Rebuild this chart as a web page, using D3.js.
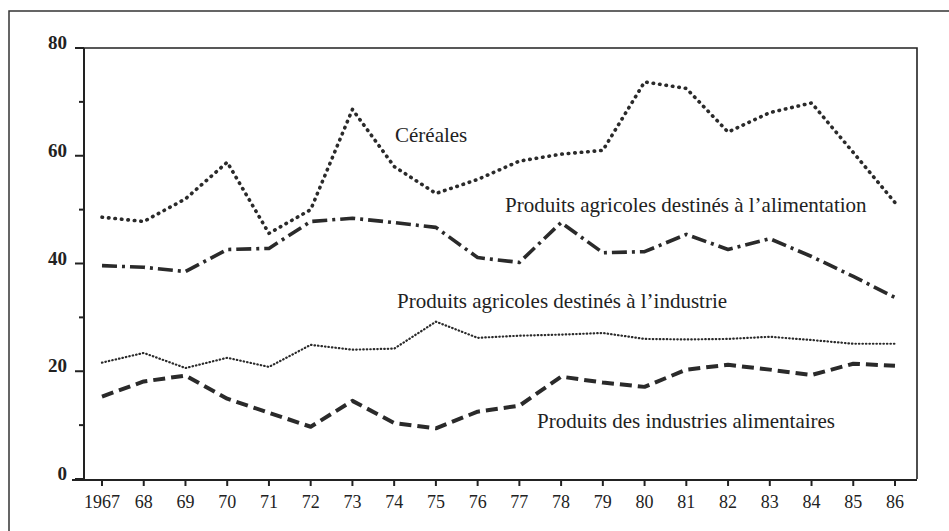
<!DOCTYPE html>
<html lang="fr">
<head>
<meta charset="UTF-8">
<title>Céréales et produits agricoles</title>
<script src="https://d3js.org/d3.v7.min.js"></script>
<style>
  body { margin: 0; background: #fff; }
  text { font-family: "Liberation Serif", "DejaVu Serif", serif; fill: #222; }
</style>
</head>
<body>
<div id="chart"></div>
<script>
// years on the x axis
const years = d3.range(1967, 1987);
const yearLabels = ["1967", "68", "69", "70", "71", "72", "73", "74", "75", "76",
                    "77", "78", "79", "80", "81", "82", "83", "84", "85", "86"];

// values
const cereales = [48.6, 47.8, 52, 58.8, 45.6, 50, 68.6, 58, 53, 55.6,
                  59, 60.3, 61, 73.7, 72.5, 64.4, 68, 69.8, 60.6, 51.3];
const alimentation = [39.6, 39.3, 38.5, 42.6, 42.8, 47.8, 48.4, 47.6, 46.7, 41.1,
                      40.2, 47.6, 42, 42.2, 45.4, 42.6, 44.6, 41.3, 37.6, 33.7];
const industrie = [21.6, 23.4, 20.6, 22.5, 20.8, 24.9, 24, 24.2, 29.2, 26.2,
                   26.6, 26.8, 27.1, 26, 25.9, 26, 26.4, 25.8, 25.1, 25.1];
const indAlim = [15.3, 18.1, 19.2, 14.9, 12.3, 9.7, 14.5, 10.4, 9.4, 12.5,
                 13.6, 19, 17.9, 17.1, 20.3, 21.2, 20.3, 19.3, 21.4, 21];

const yTicks = [0, 20, 40, 60, 80];
const yMinor = [10, 30, 50, 70];

const width = 949, height = 531;

const svg = d3.select("#chart").append("svg")
    .attr("width", width)
    .attr("height", height);

// outer frame (page border of the scan)
svg.append("path")
    .attr("d", "M9,531 L9,11 L949,11")
    .attr("fill", "none")
    .attr("stroke", "#333")
    .attr("stroke-width", 1.5);

const x = d3.scaleLinear().domain([1967, 1986]).range([102, 895]);
const y = d3.scaleLinear().domain([0, 80]).range([479, 48]);

// plot box: top and right edges
svg.append("path")
    .attr("d", `M84,${y(80)} L917,${y(80)} L917,${y(0)}`)
    .attr("fill", "none")
    .attr("stroke", "#222")
    .attr("stroke-width", 1.6);

// y axis
const yAxis = svg.append("g").attr("transform", "translate(84,0)");
yAxis.append("line")
    .attr("y1", y(80)).attr("y2", y(0) + 1)
    .attr("stroke", "#222").attr("stroke-width", 2);
yAxis.selectAll("line.major").data(yTicks).join("line")
    .attr("class", "major")
    .attr("x1", -9).attr("x2", 0)
    .attr("y1", d => y(d)).attr("y2", d => y(d))
    .attr("stroke", "#222").attr("stroke-width", 2);
yAxis.selectAll("line.minor").data(yMinor).join("line")
    .attr("class", "minor")
    .attr("x1", -5).attr("x2", 0)
    .attr("y1", d => y(d)).attr("y2", d => y(d))
    .attr("stroke", "#222").attr("stroke-width", 2);
yAxis.selectAll("text").data(yTicks).join("text")
    .attr("x", -17)
    .attr("y", d => y(d) + 1)
    .attr("text-anchor", "end")
    .attr("font-size", 19)
    .attr("font-weight", "bold")
    .text(d => d);

// x axis
const xAxis = svg.append("g");
xAxis.append("line")
    .attr("x1", 72).attr("x2", 917)
    .attr("y1", y(0) + 1).attr("y2", y(0) + 1)
    .attr("stroke", "#222").attr("stroke-width", 2.2);
xAxis.selectAll("line.tick").data(years).join("line")
    .attr("class", "tick")
    .attr("x1", d => x(d)).attr("x2", d => x(d))
    .attr("y1", y(0) + 1).attr("y2", y(0) + 7)
    .attr("stroke", "#222").attr("stroke-width", 2);
xAxis.selectAll("text").data(years).join("text")
    .attr("x", d => x(d))
    .attr("y", 508)
    .attr("text-anchor", "middle")
    .attr("font-size", 18)
    .text((d, i) => yearLabels[i]);

const line = d3.line()
    .x((d, i) => x(years[i]))
    .y(d => y(d));

// series with their dash styles
const series = [
  { values: cereales, width: 3.6, dash: "0.5,6", cap: "round" },
  { values: alimentation, width: 3.6, dash: "15,5,3,5", cap: "butt" },
  { values: industrie, width: 2.2, dash: "0.5,3", cap: "round" },
  { values: indAlim, width: 4, dash: "12,6", cap: "butt" }
];

svg.append("g").selectAll("path").data(series).join("path")
    .attr("d", d => line(d.values))
    .attr("fill", "none")
    .attr("stroke", "#2a2a2a")
    .attr("stroke-width", d => d.width)
    .attr("stroke-dasharray", d => d.dash)
    .attr("stroke-linecap", d => d.cap)
    .attr("stroke-linejoin", "round");

// in-chart labels
const labels = [
  { text: "Céréales", x: 395, y: 142 },
  { text: "Produits agricoles destinés à l’alimentation", x: 505, y: 212 },
  { text: "Produits agricoles destinés à l’industrie", x: 397, y: 308 },
  { text: "Produits des industries alimentaires", x: 537, y: 428 }
];

svg.append("g").selectAll("text").data(labels).join("text")
    .attr("x", d => d.x)
    .attr("y", d => d.y)
    .attr("font-size", 21)
    .text(d => d.text);
</script>
</body>
</html>
